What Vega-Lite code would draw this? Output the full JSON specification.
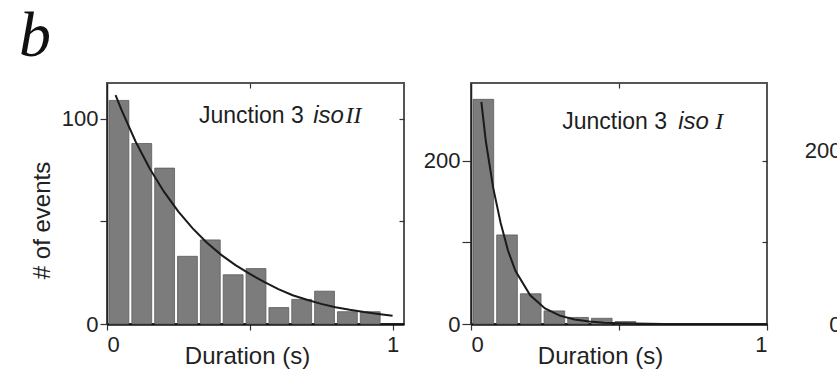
{
  "$schema": "https://vega.github.io/schema/vega-lite/v6.json",
  "padding": {"left": 18, "top": 5, "right": 0, "bottom": 0},
  "background": "white",
  "title": {"text": "b", "font": "Liberation Serif", "fontStyle": "italic", "fontWeight": "normal", "fontSize": 64, "anchor": "start", "color": "#111111", "offset": 12, "frame": "bounds", "dx": -10},
  "bounds": "flush",
  "spacing": 67,
  "config": {
    "view": {"stroke": "#555555", "strokeWidth": 2},
    "font": "Liberation Sans",
    "axis": {"labelFont": "Liberation Sans", "labelFontSize": 22, "labelColor": "#222222", "titleFont": "Liberation Sans", "titleFontSize": 24, "titleFontWeight": "normal", "titleColor": "#222222", "grid": false, "domainColor": "#222222", "tickColor": "#333333", "tickWidth": 1.2},
    "bar": {"binSpacing": 3}
  },
  "datasets": {
    "left_bars": [
      {"start": 0.00, "end": 0.08, "count": 109},
      {"start": 0.08, "end": 0.16, "count": 88},
      {"start": 0.16, "end": 0.24, "count": 76},
      {"start": 0.24, "end": 0.32, "count": 33},
      {"start": 0.32, "end": 0.40, "count": 41},
      {"start": 0.40, "end": 0.48, "count": 24},
      {"start": 0.48, "end": 0.56, "count": 27},
      {"start": 0.56, "end": 0.64, "count": 8},
      {"start": 0.64, "end": 0.72, "count": 12},
      {"start": 0.72, "end": 0.80, "count": 16},
      {"start": 0.80, "end": 0.88, "count": 6},
      {"start": 0.88, "end": 0.96, "count": 6}
    ],
    "left_fit": [
      {"t": 0.03, "v": 111.6}, {"t": 0.05, "v": 104.6}, {"t": 0.10, "v": 89.0}, {"t": 0.15, "v": 75.7},
      {"t": 0.20, "v": 64.4}, {"t": 0.25, "v": 54.8}, {"t": 0.30, "v": 46.6}, {"t": 0.35, "v": 39.6},
      {"t": 0.40, "v": 33.7}, {"t": 0.45, "v": 28.7}, {"t": 0.50, "v": 24.4}, {"t": 0.55, "v": 20.5},
      {"t": 0.60, "v": 17.0}, {"t": 0.65, "v": 14.0}, {"t": 0.70, "v": 11.8}, {"t": 0.75, "v": 9.8},
      {"t": 0.80, "v": 8.2}, {"t": 0.85, "v": 6.9}, {"t": 0.90, "v": 5.8}, {"t": 0.95, "v": 4.9}, {"t": 1.00, "v": 4.0}
    ],
    "right_bars": [
      {"start": 0.00, "end": 0.08, "count": 275},
      {"start": 0.08, "end": 0.16, "count": 109},
      {"start": 0.16, "end": 0.24, "count": 37},
      {"start": 0.24, "end": 0.32, "count": 16},
      {"start": 0.32, "end": 0.40, "count": 8},
      {"start": 0.40, "end": 0.48, "count": 7},
      {"start": 0.48, "end": 0.56, "count": 3}
    ],
    "right_fit": [
      {"t": 0.035, "v": 272}, {"t": 0.05, "v": 224}, {"t": 0.075, "v": 166.6}, {"t": 0.10, "v": 123.9},
      {"t": 0.125, "v": 89.9}, {"t": 0.15, "v": 65.2}, {"t": 0.20, "v": 35.2}, {"t": 0.25, "v": 19.0},
      {"t": 0.30, "v": 10.2}, {"t": 0.35, "v": 5.5}, {"t": 0.40, "v": 3.0}, {"t": 0.45, "v": 1.6},
      {"t": 0.50, "v": 0.9}, {"t": 0.55, "v": 0.5}, {"t": 0.60, "v": 0.3}, {"t": 0.65, "v": 0.15}
    ],
    "left_j": [{"x": 0.322, "y": 98, "text": "Junction 3"}],
    "left_iso": [{"x": 0.722, "y": 98, "text": "iso"}],
    "left_ii": [{"x": 0.835, "y": 98, "text": "II"}],
    "right_j": [{"x": 0.308, "y": 239, "text": "Junction 3"}],
    "right_iso": [{"x": 0.70, "y": 239, "text": "iso"}],
    "right_i": [{"x": 0.825, "y": 239, "text": "I"}],
    "third_panel": []
  },
  "hconcat": [
    {
      "width": 297, "height": 241,
      "resolve": {"axis": {"x": "independent", "y": "independent"}},
      "layer": [
        {
          "data": {"name": "left_bars"},
          "mark": {"type": "bar", "fill": "#7c7c7c", "stroke": "#5c5c5c", "strokeWidth": 0.8},
          "encoding": {
            "x": {"field": "start", "type": "quantitative", "bin": {"binned": true, "step": 0.08},
                  "scale": {"domain": [0, 1.04], "nice": false, "zero": false},
                  "axis": {"orient": "bottom", "values": [0, 0.5, 1], "labelExpr": "datum.value == 0 ? '0' : datum.value == 1 ? '1' : ''", "title": "Duration (s)", "titleX": 140, "titleY": 39, "titleBaseline": "alphabetic", "tickSize": 6, "labelPadding": 4, "domainWidth": 2.5, "domainColor": "#111111"}},
            "x2": {"field": "end"},
            "y": {"field": "count", "type": "quantitative", "scale": {"domain": [0, 117.5], "nice": false},
                  "axis": {"orient": "left", "values": [0, 50, 100], "labelExpr": "datum.value == 50 ? '' : datum.label", "title": "# of events", "titleX": -58, "titleY": 137, "titleBaseline": "alphabetic", "tickSize": 7, "labelPadding": 2, "domainWidth": 1.5}}
          }
        },
        {
          "data": {"name": "left_fit"},
          "mark": {"type": "line", "color": "#1a1a1a", "strokeWidth": 2},
          "encoding": {
            "x": {"field": "t", "type": "quantitative", "axis": {"orient": "top", "values": [0.5], "labels": false, "title": null, "domain": false, "tickSize": -5}},
            "y": {"field": "v", "type": "quantitative", "axis": {"orient": "right", "values": [50, 100], "labels": false, "title": null, "domain": false, "tickSize": -5}}
          }
        },
        {
          "data": {"name": "left_j"},
          "mark": {"type": "text", "align": "left", "baseline": "alphabetic", "font": "Liberation Sans", "fontSize": 23, "color": "#1e1e1e"},
          "encoding": {"x": {"field": "x", "type": "quantitative", "axis": null}, "y": {"field": "y", "type": "quantitative", "axis": null}, "text": {"field": "text"}}
        },
        {
          "data": {"name": "left_iso"},
          "mark": {"type": "text", "align": "left", "baseline": "alphabetic", "font": "Liberation Sans", "fontStyle": "italic", "fontSize": 24, "color": "#1e1e1e"},
          "encoding": {"x": {"field": "x", "type": "quantitative", "axis": null}, "y": {"field": "y", "type": "quantitative", "axis": null}, "text": {"field": "text"}}
        },
        {
          "data": {"name": "left_ii"},
          "mark": {"type": "text", "align": "left", "baseline": "alphabetic", "font": "Liberation Serif", "fontStyle": "italic", "fontSize": 24, "color": "#1e1e1e"},
          "encoding": {"x": {"field": "x", "type": "quantitative", "axis": null}, "y": {"field": "y", "type": "quantitative", "axis": null}, "text": {"field": "text"}}
        }
      ]
    },
    {
      "width": 296, "height": 241,
      "resolve": {"axis": {"x": "independent", "y": "independent"}},
      "layer": [
        {
          "data": {"name": "right_bars"},
          "mark": {"type": "bar", "fill": "#7c7c7c", "stroke": "#5c5c5c", "strokeWidth": 0.8},
          "encoding": {
            "x": {"field": "start", "type": "quantitative", "bin": {"binned": true, "step": 0.08},
                  "scale": {"domain": [0, 1], "nice": false, "zero": false},
                  "axis": {"orient": "bottom", "values": [0, 0.5, 1], "labelExpr": "datum.value == 0 ? '0' : datum.value == 1 ? '1' : ''", "title": "Duration (s)", "titleX": 129, "titleY": 39, "titleBaseline": "alphabetic", "tickSize": 6, "labelPadding": 4, "domainWidth": 2.5, "domainColor": "#111111"}},
            "x2": {"field": "end"},
            "y": {"field": "count", "type": "quantitative", "scale": {"domain": [0, 295], "nice": false},
                  "axis": {"orient": "left", "values": [0, 100, 200], "labelExpr": "datum.value == 100 ? '' : datum.label", "title": null, "tickSize": 9, "labelPadding": 2, "domainWidth": 1.5}}
          }
        },
        {
          "data": {"name": "right_fit"},
          "mark": {"type": "line", "color": "#1a1a1a", "strokeWidth": 2},
          "encoding": {
            "x": {"field": "t", "type": "quantitative", "axis": {"orient": "top", "values": [0.5], "labels": false, "title": null, "domain": false, "tickSize": -5}},
            "y": {"field": "v", "type": "quantitative", "axis": {"orient": "right", "values": [100, 200], "labels": false, "title": null, "domain": false, "tickSize": -5}}
          }
        },
        {
          "data": {"name": "right_j"},
          "mark": {"type": "text", "align": "left", "baseline": "alphabetic", "font": "Liberation Sans", "fontSize": 23, "color": "#1e1e1e"},
          "encoding": {"x": {"field": "x", "type": "quantitative", "axis": null}, "y": {"field": "y", "type": "quantitative", "axis": null}, "text": {"field": "text"}}
        },
        {
          "data": {"name": "right_iso"},
          "mark": {"type": "text", "align": "left", "baseline": "alphabetic", "font": "Liberation Sans", "fontStyle": "italic", "fontSize": 24, "color": "#1e1e1e"},
          "encoding": {"x": {"field": "x", "type": "quantitative", "axis": null}, "y": {"field": "y", "type": "quantitative", "axis": null}, "text": {"field": "text"}}
        },
        {
          "data": {"name": "right_i"},
          "mark": {"type": "text", "align": "left", "baseline": "alphabetic", "font": "Liberation Serif", "fontStyle": "italic", "fontSize": 24, "color": "#1e1e1e"},
          "encoding": {"x": {"field": "x", "type": "quantitative", "axis": null}, "y": {"field": "y", "type": "quantitative", "axis": null}, "text": {"field": "text"}}
        }
      ]
    },
    {
      "width": 50, "height": 241,
      "view": {"stroke": null},
      "data": {"name": "third_panel"},
      "mark": "point",
      "encoding": {
        "x": {"field": "t", "type": "quantitative", "scale": {"domain": [0, 1]}, "axis": null},
        "y": {"field": "v", "type": "quantitative", "scale": {"domain": [0, 278.6], "nice": false},
              "axis": {"orient": "left", "values": [0, 200], "title": null, "offset": -16, "tickSize": 7, "labelPadding": 2, "domainWidth": 1.5}}
      }
    }
  ]
}
